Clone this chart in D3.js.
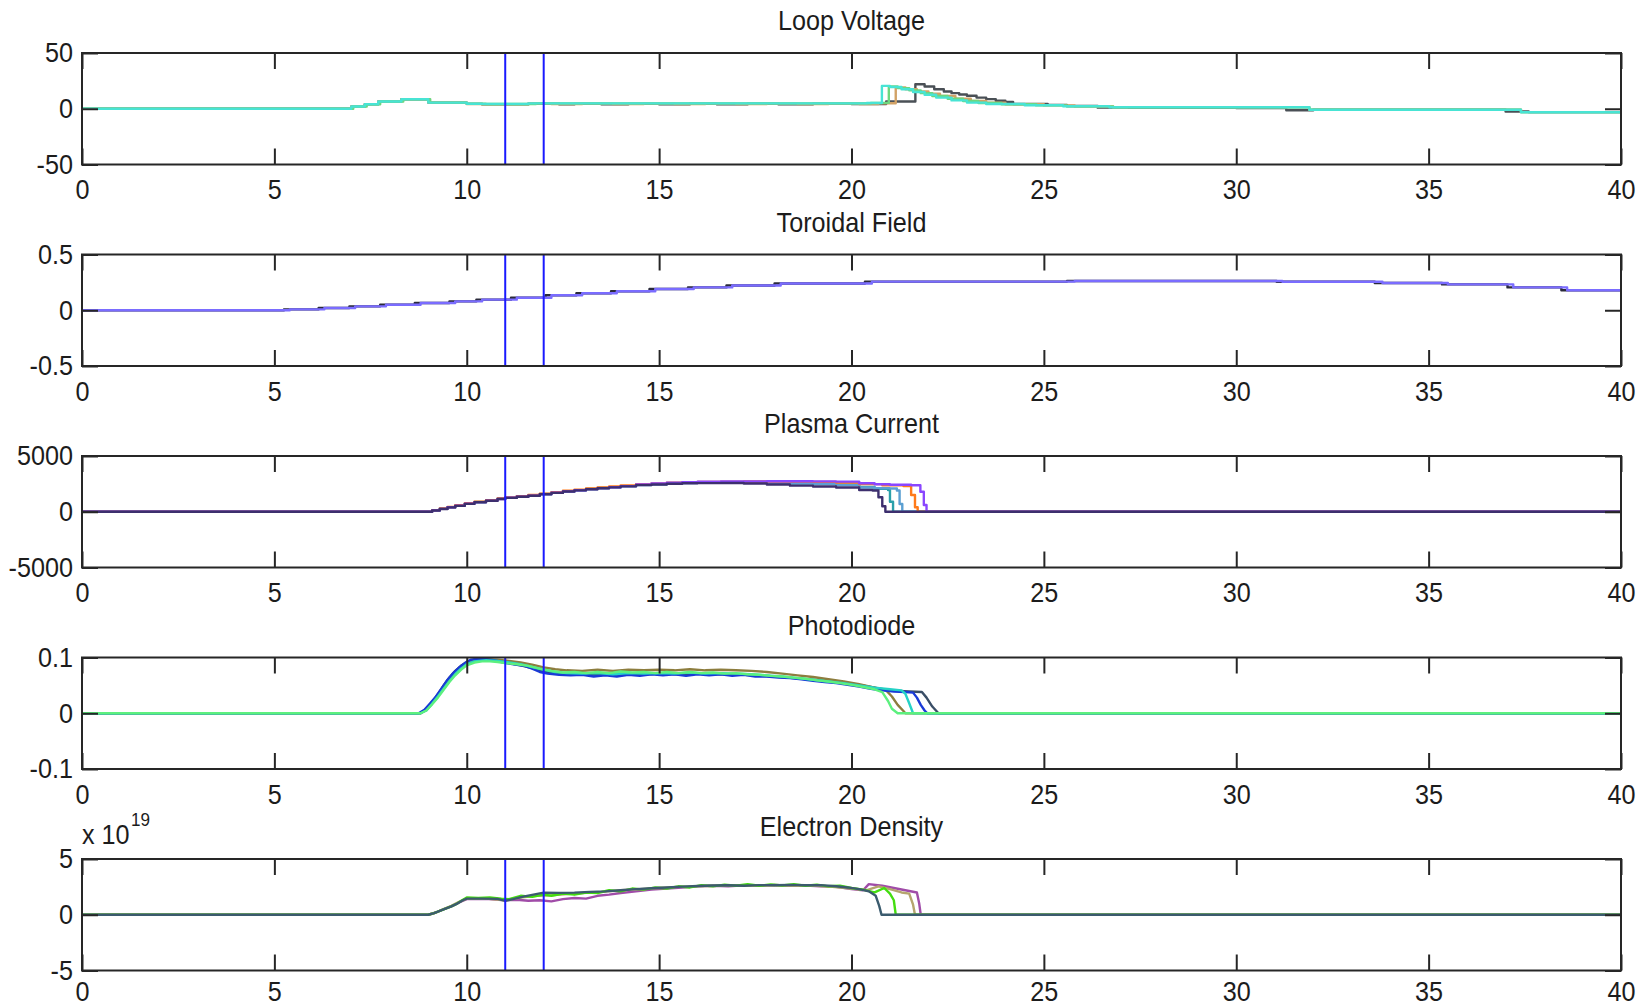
<!DOCTYPE html>
<html><head><meta charset="utf-8">
<script src="https://cdn.jsdelivr.net/npm/d3@7"></script>
<style>html,body{margin:0;padding:0;background:#fff;} svg{display:block;}</style>
</head><body><svg id="chart" width="1650" height="1008"></svg>
<script>
// ---------------- DATA ----------------
const xTicks = [0, 5, 10, 15, 20, 25, 30, 35, 40];
const markerTimes = [11, 12];
const panelTitles = ["Loop Voltage", "Toroidal Field", "Plasma Current", "Photodiode", "Electron Density"];
const yDomains = [[-50, 50], [-0.5, 0.5], [-5000, 5000], [-0.1, 0.1], [-5, 5]];
const yTickValues = [[-50, 0, 50], [-0.5, 0, 0.5], [-5000, 0, 5000], [-0.1, 0, 0.1], [-5, 0, 5]];
const yTickLabels = [["-50", "0", "50"], ["-0.5", "0", "0.5"], ["-5000", "0", "5000"], ["-0.1", "0", "0.1"], ["-5", "0", "5"]];
const exponentBase = "x 10";
const exponentPower = "19";

// Loop Voltage (V) shots, [time ms, value]
const lvGray = [[0,0],[7.0,2],[7.35,4],[7.7,6.5],[8.3,8.5],[9.0,5.5],[10.0,4.4],[10.4,4],[11.6,4.5],[12.4,4.1],[12.8,4.4],[13.5,4.1],[14.2,4.4],[15,4.1],[15.8,4.5],[16.5,4.1],[17.3,4.5],[18.1,4.1],[19,4.6],[20.0,4.3],[20.9,6.5],[21.66,22],[21.9,20],[22.15,17.5],[22.4,15.5],[22.6,14],[22.8,12.8],[23.0,11.6],[23.25,10],[23.5,8.6],[23.75,7.2],[24.0,6.2],[24.2,4.2],[25.1,3.5],[25.6,2.5],[26.4,1.0],[27.2,0.9],[30,0.6],[31.3,-1.4],[32.0,-0.9],[37.0,-2.4],[37.6,-3],[40,-3.3]];
const lvTan = [[0,0],[7.0,2],[7.35,4],[7.7,6.5],[8.3,8.5],[9.0,5.5],[10.0,4.3],[10.4,3.8],[11.6,4.6],[12.2,4.2],[13.0,4.6],[13.8,4.2],[14.6,4.6],[15.4,4.2],[16.2,4.6],[17.0,4.2],[17.8,4.6],[18.6,4.2],[19.4,4.6],[20.2,4.3],[20.7,5],[21.15,19],[21.4,17.5],[21.7,15.5],[22.0,13.5],[22.3,11.5],[22.7,9],[23.1,7],[23.5,5.5],[24.0,4],[25.0,3],[25.8,2],[26.8,1.2],[31.9,-0.8],[37.4,-3],[40,-3.3]];
const lvGreen = [[0,0],[7.05,2],[7.4,4],[7.75,6.5],[8.35,8.5],[9.05,5.5],[10.0,4.6],[10.5,4.2],[11.8,4.8],[20.5,5.3],[20.97,20],[21.2,18.5],[21.5,16.5],[21.8,14],[22.1,11.5],[22.5,9],[22.9,7],[23.3,5.2],[23.9,4],[24.8,3],[25.6,2.1],[26.8,1.3],[31.9,-0.8],[37.4,-3.0],[40,-3.3]];
const lvCyan = [[0,0],[7.0,2],[7.35,4],[7.7,6.5],[8.3,8.5],[9.0,5.5],[10.0,4.5],[10.4,4.2],[11.6,4.8],[20.4,5.2],[20.79,20.5],[21.0,19.5],[21.3,17.5],[21.6,15],[21.9,12.5],[22.2,10],[22.6,7.5],[23.0,5.5],[23.5,4.2],[24.5,3.2],[25.5,2.2],[26.7,1.4],[31.9,-0.9],[37.4,-3.1],[40,-3.3]];

// Toroidal Field (T)
const tfDark = [[0,0],[5.25,0.008],[6.15,0.02],[6.95,0.035],[7.75,0.05],[8.65,0.065],[9.55,0.08],[10.25,0.095],[11.15,0.112],[12.05,0.135],[12.85,0.152],[13.75,0.17],[14.75,0.19],[15.75,0.205],[16.75,0.222],[18.0,0.24],[20.35,0.257],[25.6,0.262],[31.05,0.255],[33.6,0.245],[35.35,0.232],[37.05,0.205],[38.45,0.18],[40,0.17]];
const tfPurple = [[0,0],[5.4,0.008],[6.3,0.02],[7.1,0.035],[7.9,0.05],[8.8,0.065],[9.7,0.08],[10.4,0.095],[11.3,0.112],[12.2,0.135],[13.0,0.152],[13.9,0.17],[14.9,0.19],[15.9,0.205],[16.9,0.222],[18.16,0.24],[20.53,0.257],[25.8,0.262],[31.2,0.255],[33.8,0.245],[35.5,0.232],[37.2,0.205],[38.6,0.18],[40,0.17]];

// Plasma Current (A)
const pcTeal = [[0,0],[8.9,0],[9.1,130],[9.3,270],[9.5,410],[9.7,550],[9.95,730],[10.2,870],[10.5,1010],[10.8,1160],[11.0,1260],[11.3,1360],[11.6,1460],[11.9,1590],[12.2,1710],[12.5,1840],[12.8,1940],[13.1,2040],[13.4,2130],[13.7,2210],[14.0,2300],[14.4,2410],[14.8,2480],[15.2,2540],[15.6,2590],[16.0,2620],[16.6,2640],[17.2,2630],[17.8,2600],[18.4,2560],[19.0,2520],[19.6,2440],[20.2,2220],[20.6,2060],[20.95,1950],[21.0,900],[21.08,0],[40,0]];
const pcSteel = [[0,0],[8.9,0],[9.1,125],[9.3,265],[9.5,405],[9.7,545],[9.95,725],[10.2,865],[10.5,1005],[10.8,1155],[11.0,1255],[11.3,1355],[11.6,1455],[11.9,1585],[12.2,1705],[12.5,1835],[12.8,1935],[13.1,2035],[13.4,2125],[13.7,2205],[14.0,2295],[14.4,2405],[14.8,2470],[15.2,2530],[15.6,2575],[16.0,2600],[16.6,2620],[17.2,2610],[17.8,2580],[18.4,2540],[19.0,2490],[19.6,2400],[20.2,2180],[20.6,2120],[21.0,2080],[21.18,1900],[21.25,700],[21.32,0],[40,0]];
const pcOrange = [[0,0],[8.9,0],[9.1,150],[9.3,290],[9.5,430],[9.7,580],[9.95,760],[10.2,900],[10.5,1040],[10.8,1190],[11.0,1290],[11.3,1400],[11.6,1500],[11.9,1630],[12.2,1750],[12.5,1880],[12.8,1980],[13.1,2080],[13.4,2170],[13.7,2260],[14.0,2350],[14.4,2460],[14.8,2540],[15.2,2600],[15.6,2650],[16.0,2680],[16.6,2700],[17.2,2710],[17.8,2710],[18.4,2700],[19.0,2680],[19.6,2620],[20.2,2480],[20.8,2380],[21.35,2300],[21.55,1500],[21.65,400],[21.72,0],[40,0]];
const pcPurple = [[0,0],[8.9,0],[9.1,120],[9.3,260],[9.5,400],[9.7,540],[9.95,720],[10.2,860],[10.5,1000],[10.8,1150],[11.0,1250],[11.3,1350],[11.6,1450],[11.9,1580],[12.2,1700],[12.5,1830],[12.8,1930],[13.1,2030],[13.4,2120],[13.7,2200],[14.0,2300],[14.4,2440],[14.8,2530],[15.2,2610],[15.6,2660],[16.0,2700],[16.6,2710],[17.2,2720],[17.8,2730],[18.4,2730],[19.0,2720],[19.6,2700],[20.2,2560],[20.6,2460],[21.0,2420],[21.55,2380],[21.79,1800],[21.88,600],[21.95,0],[40,0]];
const pcNavy = [[0,0],[8.9,0],[9.1,110],[9.3,250],[9.5,390],[9.7,530],[9.95,710],[10.2,850],[10.5,990],[10.8,1140],[11.0,1240],[11.3,1340],[11.6,1440],[11.9,1570],[12.2,1690],[12.5,1820],[12.8,1920],[13.1,2020],[13.4,2110],[13.7,2190],[14.0,2280],[14.4,2390],[14.8,2450],[15.2,2510],[15.6,2550],[16.0,2570],[16.6,2580],[17.2,2540],[17.8,2440],[18.4,2340],[19.0,2270],[19.6,2170],[20.2,1950],[20.55,1900],[20.7,1300],[20.8,500],[20.88,0],[40,0]];

// Photodiode (V)
const pdDark = [[0,0],[8.8,0],[8.95,0.008],[9.1,0.02],[9.25,0.034],[9.4,0.05],[9.55,0.064],[9.7,0.076],[9.85,0.085],[10.0,0.092],[10.2,0.096],[10.5,0.096],[10.8,0.093],[11.1,0.09],[11.4,0.086],[11.7,0.081],[12.0,0.075],[12.3,0.072],[12.6,0.07],[13.0,0.07],[13.5,0.069],[14.0,0.07],[14.5,0.069],[15.0,0.071],[15.5,0.07],[16.0,0.071],[16.5,0.07],[17.0,0.07],[17.5,0.068],[18.0,0.066],[18.5,0.063],[19.0,0.06],[19.5,0.057],[20.0,0.053],[20.5,0.047],[21.0,0.041],[21.5,0.039],[21.83,0.038],[21.95,0.028],[22.1,0.012],[22.26,0],[40,0]];
const pdOlive = [[0,0],[8.8,0],[8.95,0.006],[9.1,0.018],[9.25,0.032],[9.4,0.047],[9.55,0.061],[9.7,0.073],[9.85,0.083],[10.0,0.09],[10.2,0.095],[10.5,0.097],[10.8,0.096],[11.1,0.094],[11.4,0.091],[11.7,0.087],[12.0,0.082],[12.3,0.079],[12.6,0.077],[13.0,0.076],[13.4,0.078],[13.8,0.076],[14.2,0.078],[14.6,0.077],[15.0,0.078],[15.4,0.077],[15.8,0.079],[16.2,0.077],[16.6,0.078],[17.0,0.077],[17.4,0.076],[17.8,0.074],[18.2,0.071],[18.6,0.068],[19.0,0.065],[19.4,0.061],[19.8,0.057],[20.2,0.052],[20.6,0.046],[20.9,0.041],[21.05,0.03],[21.2,0.015],[21.35,0.004],[21.4,0],[40,0]];
const pdBlue = [[0,0],[8.75,0],[8.9,0.006],[9.05,0.018],[9.2,0.03],[9.35,0.045],[9.5,0.06],[9.65,0.072],[9.8,0.082],[9.95,0.09],[10.1,0.096],[10.3,0.098],[10.5,0.097],[10.7,0.095],[10.9,0.092],[11.1,0.089],[11.3,0.087],[11.5,0.085],[11.7,0.08],[11.9,0.074],[12.1,0.071],[12.4,0.069],[12.7,0.068],[13.0,0.069],[13.3,0.066],[13.6,0.068],[13.9,0.066],[14.2,0.069],[14.5,0.067],[14.8,0.07],[15.1,0.068],[15.4,0.07],[15.7,0.067],[16.0,0.07],[16.3,0.068],[16.6,0.07],[16.9,0.067],[17.2,0.069],[17.5,0.066],[17.8,0.066],[18.1,0.064],[18.4,0.063],[18.7,0.061],[19.0,0.058],[19.3,0.056],[19.6,0.054],[19.9,0.051],[20.2,0.048],[20.5,0.044],[20.8,0.041],[21.1,0.039],[21.4,0.038],[21.6,0.037],[21.7,0.028],[21.8,0.015],[21.9,0.005],[21.97,0],[40,0]];
const pdCyan = [[0,0],[8.8,0],[8.95,0.005],[9.1,0.017],[9.25,0.03],[9.4,0.044],[9.55,0.058],[9.7,0.07],[9.85,0.08],[10.0,0.088],[10.2,0.093],[10.5,0.095],[10.8,0.094],[11.1,0.091],[11.4,0.088],[11.7,0.083],[12.0,0.078],[12.3,0.074],[12.6,0.072],[13.0,0.071],[13.4,0.072],[13.8,0.07],[14.2,0.072],[14.6,0.071],[15.0,0.072],[15.4,0.071],[15.8,0.073],[16.2,0.071],[16.6,0.072],[17.0,0.071],[17.4,0.07],[17.8,0.068],[18.2,0.066],[18.6,0.063],[19.0,0.06],[19.4,0.057],[19.8,0.054],[20.2,0.05],[20.6,0.046],[21.0,0.043],[21.3,0.041],[21.4,0.035],[21.5,0.018],[21.6,0],[40,0]];
const pdGreen = [[0,0],[8.8,0],[8.95,0.005],[9.1,0.016],[9.25,0.028],[9.4,0.042],[9.55,0.056],[9.7,0.068],[9.85,0.078],[10.0,0.086],[10.2,0.091],[10.4,0.093],[10.6,0.093],[10.8,0.092],[11.0,0.09],[11.3,0.088],[11.6,0.085],[11.9,0.08],[12.2,0.076],[12.5,0.073],[12.8,0.074],[13.1,0.072],[13.4,0.074],[13.7,0.072],[14.0,0.075],[14.3,0.073],[14.6,0.074],[14.9,0.072],[15.2,0.074],[15.5,0.072],[15.8,0.074],[16.1,0.072],[16.4,0.073],[16.7,0.071],[17.0,0.072],[17.3,0.07],[17.6,0.069],[17.9,0.067],[18.2,0.066],[18.5,0.064],[18.8,0.062],[19.1,0.059],[19.4,0.057],[19.7,0.054],[20.0,0.051],[20.3,0.047],[20.6,0.043],[20.8,0.038],[20.95,0.022],[21.05,0.008],[21.2,0],[40,0]];

// Electron Density (x 10^19 m^-3)
const edPurple = [[0,0],[9.0,0],[9.2,0.2],[9.4,0.5],[9.6,0.75],[9.8,1.1],[10.0,1.4],[10.5,1.42],[11.0,1.3],[11.3,1.35],[11.6,1.25],[11.9,1.3],[12.2,1.2],[12.5,1.4],[12.8,1.5],[13.1,1.45],[13.4,1.7],[13.7,1.8],[14.0,1.95],[14.4,2.1],[14.8,2.25],[15.2,2.35],[15.6,2.45],[16.0,2.55],[16.4,2.6],[16.8,2.55],[17.2,2.65],[17.6,2.6],[18.0,2.68],[18.4,2.6],[18.8,2.62],[19.2,2.55],[19.6,2.5],[20.0,2.3],[20.3,2.2],[20.45,2.75],[20.8,2.6],[21.1,2.4],[21.4,2.2],[21.7,2.0],[21.76,1.0],[21.8,0],[40,0]];
const edOlive = [[0,0],[9.0,0],[9.2,0.2],[9.4,0.5],[9.6,0.8],[9.8,1.15],[10.0,1.45],[10.5,1.45],[11.0,1.3],[11.4,1.55],[11.8,1.7],[12.2,1.75],[12.6,1.85],[13.0,1.95],[13.5,2.05],[14.0,2.2],[14.5,2.3],[15.0,2.4],[15.5,2.5],[16.0,2.55],[16.5,2.6],[17.0,2.62],[17.5,2.6],[18.0,2.65],[18.5,2.6],[19.0,2.62],[19.5,2.5],[20.0,2.35],[20.4,2.2],[20.7,2.55],[21.0,2.3],[21.3,2.0],[21.5,1.9],[21.6,0.9],[21.65,0],[40,0]];
const edGreen = [[0,0],[9.0,0],[9.15,0.15],[9.3,0.35],[9.45,0.55],[9.6,0.75],[9.75,1.0],[9.9,1.35],[10.0,1.55],[10.3,1.5],[10.6,1.55],[10.9,1.45],[11.1,1.4],[11.4,1.7],[11.7,1.6],[12.0,1.8],[12.2,1.7],[12.5,1.9],[12.8,1.8],[13.1,2.0],[13.4,1.95],[13.7,2.2],[14.0,2.1],[14.3,2.35],[14.6,2.25],[14.9,2.45],[15.2,2.35],[15.5,2.55],[15.8,2.45],[16.1,2.65],[16.4,2.55],[16.7,2.7],[17.0,2.6],[17.3,2.75],[17.6,2.6],[17.9,2.72],[18.2,2.62],[18.5,2.75],[18.8,2.6],[19.1,2.7],[19.4,2.55],[19.7,2.6],[20.0,2.4],[20.3,2.25],[20.6,2.0],[20.85,2.4],[21.0,1.9],[21.1,1.3],[21.15,0],[40,0]];
const edDark = [[0,0],[9.0,0],[9.15,0.15],[9.3,0.35],[9.45,0.55],[9.6,0.75],[9.75,1.0],[9.9,1.3],[10.0,1.45],[10.4,1.45],[10.8,1.42],[11.0,1.25],[11.2,1.4],[11.5,1.65],[11.8,1.85],[12.0,1.98],[12.4,1.96],[12.8,1.98],[13.2,2.05],[13.6,2.1],[14.0,2.2],[14.4,2.3],[14.8,2.38],[15.2,2.45],[15.6,2.52],[16.0,2.58],[16.4,2.62],[16.8,2.64],[17.2,2.6],[17.6,2.66],[18.0,2.64],[18.4,2.68],[18.8,2.64],[19.2,2.66],[19.6,2.55],[19.9,2.45],[20.2,2.3],[20.45,2.1],[20.63,1.7],[20.72,0.8],[20.78,0],[40,0]];

// series per panel (draw order) and their colours
const panelSeries = [
  [lvGray, lvTan, lvGreen, lvCyan],
  [tfDark, tfPurple],
  [pcTeal, pcSteel, pcOrange, pcPurple, pcNavy],
  [pdDark, pdOlive, pdBlue, pdCyan, pdGreen],
  [edPurple, edOlive, edGreen, edDark]
];
const panelColors = [
  ["#4a5056", "#d2a266", "#6ed67e", "#48e4d4"],
  ["#2a2a3a", "#7a6cff"],
  ["#2aa0aa", "#5b9fd2", "#ff7a1a", "#8a46ff", "#3d2f6e"],
  ["#3a4e66", "#8d7d3e", "#1a3ad6", "#25d2c6", "#5cf07e"],
  ["#a04ca8", "#b5a56e", "#44dd10", "#3b5b6e"]
];

// ---------------- DRAW ----------------
const W = 1650, H = 1008;
const LEFT = 82, RIGHT = 1621, TOP0 = 53, STEP = 201.5, PH = 111.5;
const AX = "#262626", TXT = "#1c1c1c", MARK = "#1a1aff";
const FONT = "'Liberation Sans', Arial, Helvetica, sans-serif";
const FS = 28, SX = 0.9;

const svg = d3.select("#chart");
svg.append("rect").attr("width", W).attr("height", H).attr("fill", "#fff");
const defs = svg.append("defs");
const x = d3.scaleLinear().domain([0, 40]).range([LEFT, RIGHT]);
const curves = [d3.curveStepAfter, d3.curveStepAfter, d3.curveStepAfter, d3.curveLinear, d3.curveLinear];

function addText(g, tx, ty, txt, size, anchor) {
  g.append("text")
    .attr("transform", `translate(${tx},${ty}) scale(${SX},1)`)
    .attr("text-anchor", anchor)
    .attr("font-family", FONT)
    .attr("font-size", size)
    .attr("fill", TXT)
    .text(txt);
}

function styleAxis(sel) {
  sel.select(".domain").remove();
  sel.selectAll(".tick line").attr("stroke", AX).attr("stroke-width", 2);
  sel.selectAll(".tick text")
    .attr("font-family", FONT).attr("font-size", FS).attr("fill", TXT)
    .attr("transform", `scale(${SX},1)`);
}

panelSeries.forEach((seriesList, i) => {
  const top = TOP0 + i * STEP, bottom = top + PH;
  const y = d3.scaleLinear().domain(yDomains[i]).range([bottom, top]);
  const g = svg.append("g");
  const isLast = i === panelSeries.length - 1;

  const cid = "clip" + i;
  defs.append("clipPath").attr("id", cid)
    .append("rect").attr("x", LEFT).attr("y", top).attr("width", RIGHT - LEFT).attr("height", PH);

  g.append("rect").attr("x", LEFT).attr("y", top).attr("width", RIGHT - LEFT).attr("height", PH).attr("fill", "#fff");

  const plot = g.append("g").attr("clip-path", `url(#${cid})`);
  const line = d3.line().x(d => x(d[0])).y(d => y(d[1])).curve(curves[i]);
  seriesList.forEach((s, k) => {
    plot.append("path").datum(s).attr("d", line)
      .attr("fill", "none").attr("stroke", panelColors[i][k])
      .attr("stroke-width", 2.4).attr("stroke-linejoin", "round");
  });

  markerTimes.forEach(t => {
    plot.append("line").attr("x1", x(t)).attr("x2", x(t)).attr("y1", top).attr("y2", bottom)
      .attr("stroke", MARK).attr("stroke-width", 2);
  });

  // axes (inward ticks on all four sides)
  const axB = g.append("g").attr("transform", `translate(0,${bottom})`)
    .call(d3.axisBottom(x).tickValues(xTicks).tickSize(-16).tickPadding(isLast ? 11 : 15).tickFormat(d3.format("d")));
  styleAxis(axB);
  const axT = g.append("g").attr("transform", `translate(0,${top})`)
    .call(d3.axisTop(x).tickValues(xTicks).tickSize(-16).tickFormat(""));
  styleAxis(axT);
  const axL = g.append("g").attr("transform", `translate(${LEFT},0)`)
    .call(d3.axisLeft(y).tickValues(yTickValues[i]).tickSize(-16).tickPadding(10)
      .tickFormat((d, j) => yTickLabels[i][j]));
  styleAxis(axL);
  const axR = g.append("g").attr("transform", `translate(${RIGHT},0)`)
    .call(d3.axisRight(y).tickValues(yTickValues[i]).tickSize(-16).tickFormat(""));
  styleAxis(axR);

  g.append("rect").attr("x", LEFT).attr("y", top).attr("width", RIGHT - LEFT).attr("height", PH)
    .attr("fill", "none").attr("stroke", AX).attr("stroke-width", 2);

  addText(g, (LEFT + RIGHT) / 2, top - 23, panelTitles[i], FS, "middle");

  if (isLast) {
    addText(g, LEFT, top - 15, exponentBase, FS, "start");
    addText(g, LEFT + 49, top - 33, exponentPower, 19, "start");
  }
});
</script>
</body></html>
